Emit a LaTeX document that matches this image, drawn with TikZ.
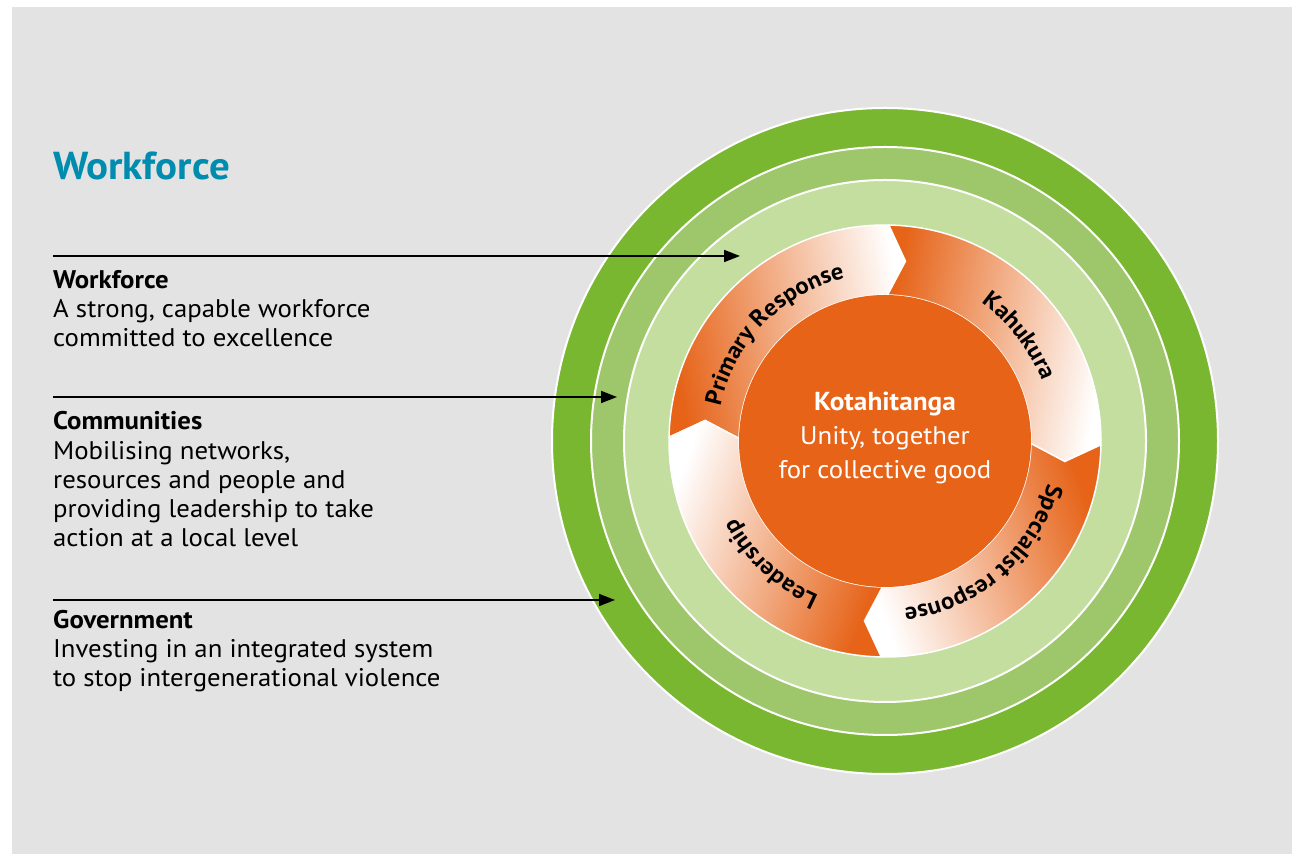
\documentclass[tikz,border=0pt]{standalone}
\usepackage{fontspec}
\setmainfont{PT Sans}[FakeStretch=1.05]
\usetikzlibrary{arrows.meta,calc,decorations.text,positioning}

\definecolor{panelgray}{HTML}{E3E3E3}
\definecolor{titleteal}{HTML}{008CAF}
\definecolor{ringdark}{HTML}{7AB731}
\definecolor{ringmid}{HTML}{9EC66A}
\definecolor{ringlight}{HTML}{C4DEA0}
\definecolor{coreorange}{HTML}{E66318}

\newcommand{\bodysize}{\fontsize{25.5}{29.3}\selectfont}
\newcommand{\coresize}{\fontsize{25.5}{34}\selectfont}
\newcommand{\ringfont}{\bfseries\fontsize{23.5}{23.5}\selectfont}

\begin{document}
\begin{tikzpicture}[x=1pt,y=1pt,
    ring/.style={draw=white,line width=2pt},
    seg/.style={draw=white,line width=1.5pt,left color=coreorange,right color=white},
    lead/.style={-{Triangle[length=16pt,width=12pt]},line width=1.8pt},
    blurb/.style={anchor=base west,align=left,inner sep=0pt,font=\bodysize}]

\useasboundingbox (0,0) rectangle (1299,854);
\fill[white] (0,0) rectangle (1299,854);
\fill[panelgray] (12,0) rectangle (1292,847);

\coordinate (C) at (885,413);

% rings
\fill[ringdark,ring] (C) circle[radius=333];
\fill[ringmid,ring] (C) circle[radius=294];
\fill[ringlight,ring] (C) circle[radius=261];

% arrow segments, tail angle / shading angle
\foreach \a/\sa in {179/100,89/80,-1/-70,-91/-110}
  \shade[seg,shading angle=\sa] ($(C)+(\a:216)$) arc[start angle=\a,end angle=\a-90,radius=216]
    -- ($(C)+({\a-95.5}:181)$) -- ($(C)+({\a-90}:146)$)
    arc[start angle=\a-90,end angle=\a,radius=146]
    -- ($(C)+({\a-5.5}:181)$) -- cycle;

\node[circle,fill=coreorange,minimum size=292pt,inner sep=0pt] (core) at (C) {};
\node[text=white,align=center,font=\coresize,yshift=3pt] (motto) at (core)
  {{\fontsize{26}{34}\selectfont\bfseries Kotahitanga}\\Unity, together\\for collective good};

% ring labels
\path[decorate,decoration={text along path,text align=center,text={|\ringfont|Primary Response}}]
  ($(C)+(181:168)$) arc[start angle=181,end angle=91,radius=168];
\path[decorate,decoration={text along path,text align=center,text={|\ringfont|Kahukura}}]
  ($(C)+(83:168)$) arc[start angle=83,end angle=-7,radius=168];
\path[decorate,decoration={text along path,text align=center,text={|\ringfont|Specialist response}}]
  ($(C)+(-4:168)$) arc[start angle=-4,end angle=-94,radius=168];
\path[decorate,decoration={text along path,text align=center,text={|\ringfont|Leadership}}]
  ($(C)+(-88:168)$) arc[start angle=-88,end angle=-178,radius=168];

% left column
\node[font=\bfseries\fontsize{39}{39}\selectfont,text=titleteal,anchor=base west,inner sep=0pt] (title) at (53,674) {Workforce};

\node[blurb] (wf) at (53,507) {\textbf{Workforce}\\A strong, capable workforce\\committed to excellence};
\node[blurb] (cm) at (53,307) {\textbf{Communities}\\Mobilising networks,\\resources and people and\\providing leadership to take\\action at a local level};
\node[blurb] (gv) at (53,167) {\textbf{Government}\\Investing in an integrated system\\to stop intergenerational violence};

\coordinate (wfL) at (53,598);  \coordinate (wfT) at (740,598);
\coordinate (cmL) at (53,457);  \coordinate (cmT) at (617,457);
\coordinate (gvL) at (53,254);  \coordinate (gvT) at (615,254);
\draw[lead] (wfL) -- (wfT);
\draw[lead] (cmL) -- (cmT);
\draw[lead] (gvL) -- (gvT);
\end{tikzpicture}
\end{document}
